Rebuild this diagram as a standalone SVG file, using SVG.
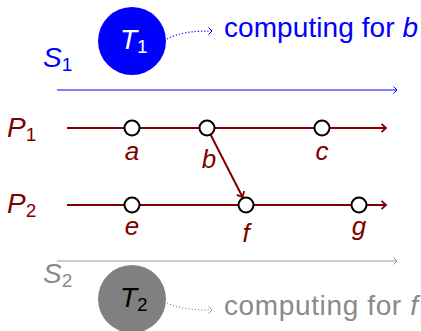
<svg xmlns="http://www.w3.org/2000/svg" width="421" height="331" viewBox="0 0 421 331">
<defs>
<style>
text{font-family:"Liberation Sans",Arial,sans-serif;}
.big{font-size:28px;}
.sub{font-size:19px;}
.it{font-style:italic;}
.lbl{font-size:26px;font-style:italic;fill:#800000;text-anchor:middle;}
.blue{fill:#0000ff;}
.red{fill:#800000;}
.gray{fill:#8a8a8a;}
.ev{fill:#ffffff;stroke:#000000;stroke-width:2;}
.pl{stroke:#800000;stroke-width:2;fill:none;}
</style>
<marker id="ahRed" viewBox="-6 -5 8 10" markerWidth="8" markerHeight="10" refX="0" refY="0" orient="auto" markerUnits="userSpaceOnUse">
<path d="M-4.5,-4.2 L0,0 L-4.5,4.2" fill="none" stroke="#800000" stroke-width="1.8"/>
</marker>
<marker id="ahBlue" viewBox="-6 -5 8 10" markerWidth="8" markerHeight="10" refX="0" refY="0" orient="auto" markerUnits="userSpaceOnUse">
<path d="M-3.5,-3.5 L0,0 L-3.5,3.5" fill="none" stroke="#0000ff" stroke-width="1"/>
</marker>
<marker id="ahGray" viewBox="-6 -5 8 10" markerWidth="8" markerHeight="10" refX="0" refY="0" orient="auto" markerUnits="userSpaceOnUse">
<path d="M-3.5,-3.5 L0,0 L-3.5,3.5" fill="none" stroke="#999999" stroke-width="1"/>
</marker>
</defs>

<g id="connectors">
<line x1="57" y1="90" x2="397" y2="90" stroke="#0000ff" stroke-width="1.2" marker-end="url(#ahBlue)"/>
<line x1="57" y1="261" x2="397" y2="261" stroke="#999999" stroke-width="1.2" marker-end="url(#ahGray)"/>
<line class="pl" x1="67" y1="128" x2="386" y2="128" marker-end="url(#ahRed)"/>
<line class="pl" x1="67" y1="205" x2="386" y2="205" marker-end="url(#ahRed)"/>
<line class="pl" x1="210.5" y1="134.5" x2="242.5" y2="197" marker-end="url(#ahRed)"/>
<path d="M167,39 C180,32 195,31 212,31" fill="none" stroke="#0000ff" stroke-width="1.2" stroke-dasharray="1.2,2" marker-end="url(#ahBlue)"/>
<path d="M167,303 C180,309 195,310 212,310" fill="none" stroke="#999999" stroke-width="1.2" stroke-dasharray="1.2,2" marker-end="url(#ahGray)"/>
</g>

<g id="S1">
<text class="big blue" x="43" y="67"><tspan class="it">S</tspan><tspan class="sub" dy="4">1</tspan></text>
</g>
<g id="T1">
<circle cx="132" cy="41" r="34" fill="#0000ff"/>
<text class="big" x="120" y="49" fill="#ffffff"><tspan class="it">T</tspan><tspan class="sub" dy="4">1</tspan></text>
</g>
<g id="note1">
<text class="big blue" x="224" y="37" textLength="194" lengthAdjust="spacing">computing for <tspan class="it">b</tspan></text>
</g>

<g id="P1">
<text class="big red" x="7" y="137"><tspan class="it">P</tspan><tspan class="sub" dy="4">1</tspan></text>
</g>
<g id="P2">
<text class="big red" x="7" y="213"><tspan class="it">P</tspan><tspan class="sub" dy="4">2</tspan></text>
</g>

<g id="a"><circle class="ev" cx="132" cy="128" r="7.5"/><text class="lbl" x="132" y="160">a</text></g>
<g id="b"><circle class="ev" cx="207" cy="128" r="7.5"/><text class="lbl" x="209" y="168">b</text></g>
<g id="c"><circle class="ev" cx="322" cy="128" r="7.5"/><text class="lbl" x="322" y="160">c</text></g>
<g id="e"><circle class="ev" cx="132" cy="205" r="7.5"/><text class="lbl" x="132" y="235">e</text></g>
<g id="f"><circle class="ev" cx="246" cy="205" r="7.5"/><text class="lbl" x="246" y="242">f</text></g>
<g id="g"><circle class="ev" cx="359" cy="205" r="7.5"/><text class="lbl" x="359" y="235">g</text></g>

<g id="S2">
<text class="big gray" x="43" y="283"><tspan class="it">S</tspan><tspan class="sub" dy="4">2</tspan></text>
</g>
<g id="T2">
<circle cx="132" cy="299" r="34" fill="#808080"/>
<text class="big" x="120" y="307" fill="#000000"><tspan class="it">T</tspan><tspan class="sub" dy="4">2</tspan></text>
</g>
<g id="note2">
<text class="big gray" x="224" y="315" textLength="194" lengthAdjust="spacing">computing for <tspan class="it">f</tspan></text>
</g>
</svg>
